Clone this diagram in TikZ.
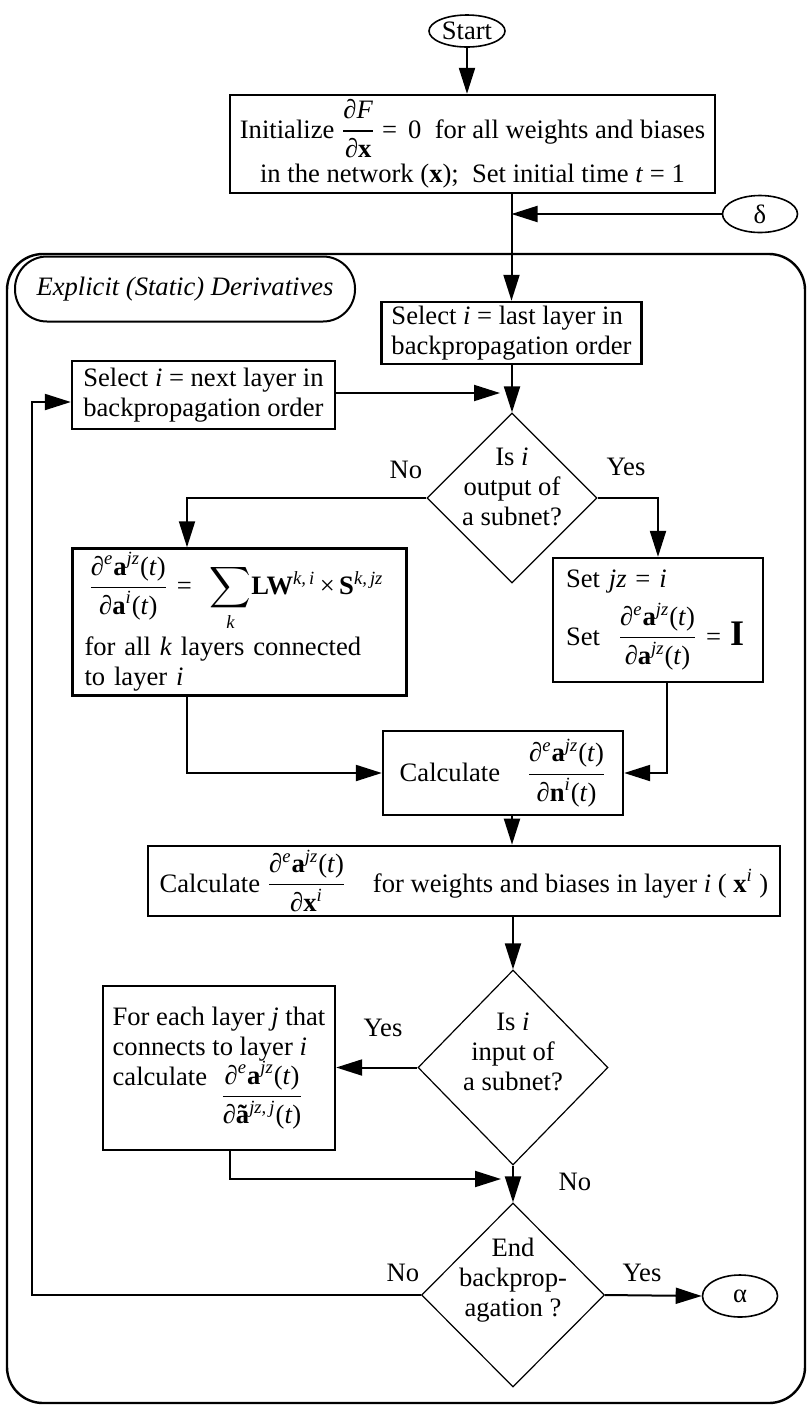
\documentclass[tikz,border=0pt]{standalone}
\usepackage{amsmath}
\usepackage{fontspec}
\setmainfont{Liberation Serif}
\usetikzlibrary{arrows.meta,shapes.geometric}

% partial-derivative fraction set in the text font
\newcommand{\fr}[2]{$\dfrac{\text{#1}}{\text{#2}}$}
\newcommand{\pdea}{∂\textsuperscript{\itshape e}\textbf{a}\textsuperscript{\itshape jz}(\textit{t})}

\begin{document}
\begin{tikzpicture}[x=0.5pt,y=-0.5pt,
  every node/.append style={font=\fontsize{13.3}{15}\selectfont},
  boxnode/.style={draw,rectangle,line width=1.15pt,inner xsep=5pt,inner ysep=2pt},
  oval/.style={draw,ellipse,line width=0.8pt,inner sep=0pt},
  dia/.style={draw,diamond,line width=0.6pt,inner sep=0pt},
  lbl/.style={inner sep=0pt},
  conn/.style={line width=1pt},
  arr/.style={conn,-{Triangle[length=13pt,width=8pt]}}]

\useasboundingbox (0,0) rectangle (807,1410);

% frame of the explicit-derivative block
\draw[line width=1.2pt,rounded corners=18pt] (7,254) rectangle (805,1403);

\node[oval,minimum width=38pt,minimum height=16pt] (start) at (467,31) {Start};
\node[boxnode,minimum width=239.5pt,minimum height=49pt,align=center] (init) at (472.5,144)
  {Initialize \fr{∂\textit{F}}{∂\textbf{x}} = \,0 \ for all weights and biases\\[2pt]
   in the network (\textbf{x}); \ Set initial time \textit{t} = 1};
\node[oval,minimum width=37.5pt,minimum height=18.5pt] (delta) at (760,214) {δ};

\node[draw,line width=1pt,rounded corners=16pt,minimum width=170pt,minimum height=32.5pt] (lab)
  at (185,289) {\textit{Explicit (Static) Derivatives}};

\node[boxnode,minimum width=122.5pt,minimum height=31pt,align=left] (sellast) at (511.5,333)
  {Select \textit{i} = last layer in\\backpropagation order};
\node[boxnode,minimum width=131.5pt,minimum height=34pt,align=left] (selnext) at (203.5,395)
  {Select \textit{i} = next layer in\\backpropagation order};

\node[dia,minimum width=85pt,minimum height=85pt] (d1) at (512,498) {};
\node[lbl,align=center] (d1t) at (512,487) {Is \textit{i}\\output of\\a subnet?};

\node[boxnode,text width=155pt,inner xsep=6pt,minimum height=70pt,align=left] (lw) at (239.5,622)
  {\hspace*{2pt}\fr{\pdea}{∂\textbf{a}\textsuperscript{\itshape i}(\textit{t})}\ = \ $\displaystyle\sum_{\text{\itshape k}}$\textbf{LW}\textsuperscript{\itshape k,\,i}\,×\,\textbf{S}\textsuperscript{\itshape k,\,jz}\\[2pt]
   for all \textit{k} layers connected\\to layer \textit{i}};

\node[boxnode,text width=92pt,inner xsep=6.5pt,minimum height=62pt,align=left] (setjz) at (658,620)
  {Set \textit{jz} = \textit{i}\\[4pt]
   Set \ \fr{\pdea}{∂\textbf{a}\textsuperscript{\itshape jz}(\textit{t})} = {\fontsize{18}{18}\selectfont\textbf{I}}};

\node[boxnode,minimum width=120pt,minimum height=42pt] (calc1) at (503,773)
  {Calculate\quad\fr{\pdea}{∂\textbf{n}\textsuperscript{\itshape i}(\textit{t})}};

\node[boxnode,minimum width=316pt,minimum height=31pt] (calc2) at (464,881)
  {Calculate \fr{\pdea}{∂\textbf{x}\textsuperscript{\itshape i}}\quad for weights and biases in layer \textit{i} ( \textbf{x}\textsuperscript{\itshape i} )};

\node[dia,minimum width=95pt,minimum height=97.5pt] (d2) at (513,1067.5) {};
\node[lbl,align=center] (d2t) at (513,1052) {Is \textit{i}\\input of\\a subnet?};

\node[boxnode,minimum width=116pt,inner xsep=2pt,minimum height=82pt,align=left] (lw2) at (219,1068)
  {For each layer \textit{j} that\\connects to layer \textit{i}\\calculate\ \ \raisebox{\dimexpr0.9em-\height\relax}{\fr{\pdea}{∂\textbf{ã}\textsuperscript{\itshape jz,\,j}(\textit{t})}}};

\node[dia,minimum width=91.5pt,minimum height=92pt] (d3) at (513,1295) {};
\node[lbl,align=center] (d3t) at (513,1280) {End\\backprop-\\agation ?};

\node[oval,minimum width=37.5pt,minimum height=21pt] (alpha) at (740,1296) {α};

% branch labels
\node[lbl] (no1) at (406,470) {No};
\node[lbl] (yes1) at (626,467) {Yes};
\node[lbl] (yes2) at (383,1028) {Yes};
\node[lbl] (no2) at (575,1182) {No};
\node[lbl] (no3) at (403,1273) {No};
\node[lbl] (yes3) at (642,1273) {Yes};

% bend points
\coordinate (lwx) at (187,600);
\coordinate (sx) at (667,600);
\coordinate (jn) at (512,393);
\coordinate (lp) at (32,402);
\coordinate (l2x) at (230,1100);
\coordinate (l2y) at (513,1179);

% connectors
\draw[arr] (start.south) -- (start.south |- init.north);
\draw[arr] (init.south -| sellast) -- (sellast.north);
\draw[arr] (delta.west) -- (delta.west -| sellast.north);
\draw[arr] (sellast.south -| d1) -- (d1.north);
\draw[arr,shorten >=6pt] (selnext.east |- jn) -- (jn);
\draw[arr] (d3.west) -- (d3.west -| lp) |- (selnext.west |- lp);
\draw[arr] (d1.west) -| (lw.north -| lwx);
\draw[arr] (d1.east) -| (setjz.north);
\draw[arr] (lw.south -| lwx) |- (calc1.west);
\draw[arr] (setjz.south -| sx) |- (calc1.east);
\draw[arr] (calc1.south -| d1) -- (calc2.north -| d1);
\draw[arr] (calc2.south -| d2) -- (d2.north);
\draw[arr] (d2.west) -- (d2.west -| lw2.east);
\draw[arr] (d2.south) -- (d3.north);
\draw[arr,shorten >=6pt] (lw2.south -| l2x) |- (l2y);
\draw[arr] (d3.east) -- (alpha.west);
\end{tikzpicture}
\end{document}
